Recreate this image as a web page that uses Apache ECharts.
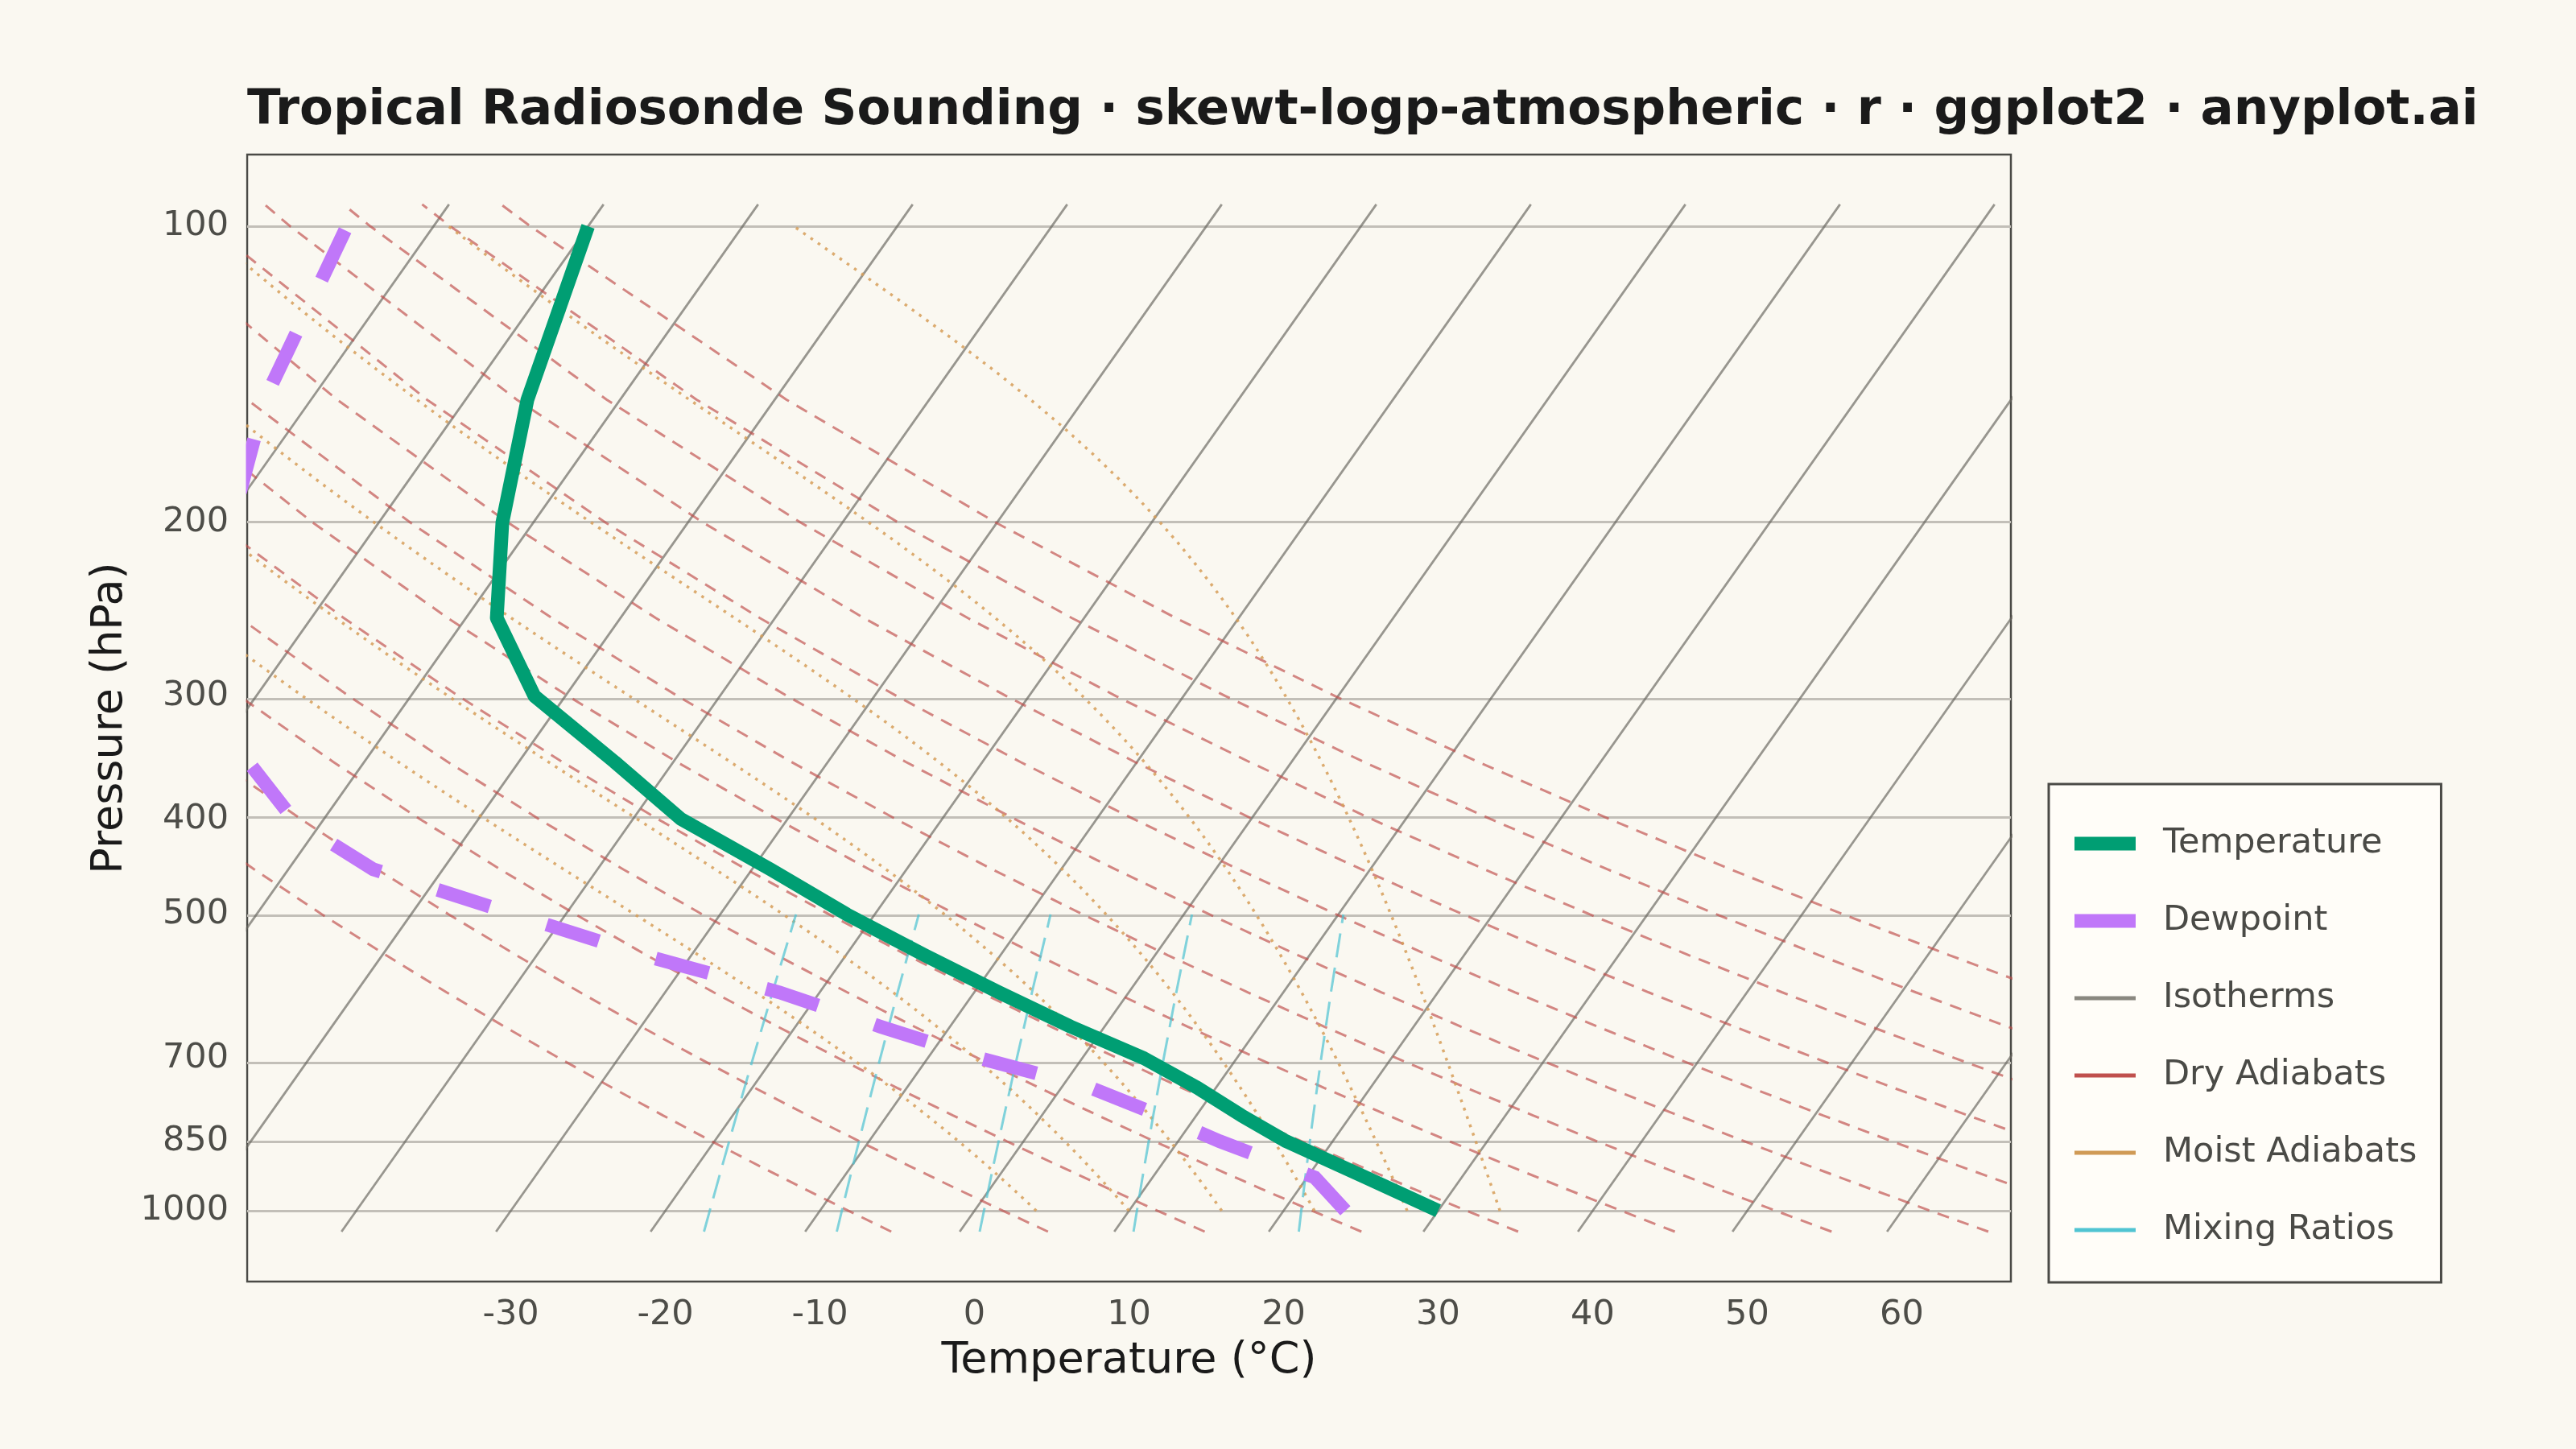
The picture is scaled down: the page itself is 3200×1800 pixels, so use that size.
<!DOCTYPE html>
<html>
<head>
<meta charset="utf-8">
<title>Tropical Radiosonde Sounding</title>
<script src="https://cdn.jsdelivr.net/npm/echarts@6/dist/echarts.min.js"></script>
<style>
  html, body { margin: 0; padding: 0; background: #FAF8F1; }
  #chart { width: 3200px; height: 1800px; }
</style>
</head>
<body>
<div id="chart"></div>
<script>
// sounding (hPa, degC)
var levels      = [1000, 925, 850, 800, 750, 700, 650, 600, 550, 500, 450, 400, 350, 300, 250, 200, 150, 100];
var temperature = [30, 23.8, 17, 12.9, 8.8, 4, -2.2, -8.4, -14.9, -21.8, -28.8, -36.9, -43.8, -52, -58, -62, -66, -70];
var dewpoint    = [24, 20.5, 12.7, 7.6, 1.9, -6.6, -14.5, -22.6, -33.1, -43.3, -54.5, -62, -67.5, -72, -77, -79.5, -83, -85.6];

// reference lines of the diagram
var isotherms    = [-80, -70, -60, -50, -40, -30, -20, -10, 0, 10, 20, 30, 40, 50, 60];     // degC
var dryThetas    = [265, 275, 285, 295, 305, 315, 325, 335, 345, 355, 365, 375, 385];      // K
var moistStarts  = [4, 10, 16, 22, 28, 34];                                                // degC at 1000 hPa
var mixingRatios = [1, 2, 4, 8, 16];                                                       // g/kg

// pressures the reference lines are sampled at
var dryLevels    = [1050, 1000, 950, 900, 850, 800, 750, 700, 650, 600, 550, 500, 450, 400, 350, 300, 250, 200, 150, 100, 95];
var mixLevels    = [1050, 1000, 900, 800, 700, 600, 500];
var MOIST_TOP = 1000, MOIST_BOTTOM = 100, MOIST_STEP = 10;   // hPa, RK4 steps

// axis ticks
var pressureTicks = [100, 200, 300, 400, 500, 700, 850, 1000];
var tempTicks     = [-30, -20, -10, 0, 10, 20, 30, 40, 50, 60];

var SKEW = 45;          // degC of skew per decade of pressure
var RD = 287.04, CP = 1005.7, LV = 2.501e6, EPS = 0.622, KAPPA = 0.2857;

function skewX(t, p) { return t + SKEW * Math.log10(1000 / p); }
function pt(t, p) { return [skewX(t, p), Math.log10(p)]; }
function satVapour(tc) { return 6.112 * Math.exp(17.67 * tc / (tc + 243.5)); }

// saturated (pseudo-adiabatic) lapse dT/dp, K per hPa
function moistLapse(t, p) {
  var tk = t + 273.15, es = satVapour(t), rs = EPS * es / (p - es);
  return (RD * tk + LV * rs) / (p * (CP + LV * LV * rs * EPS / (RD * tk * tk)));
}

var GAP = ['-', '-'];

function isothermData() {
  var out = [];
  isotherms.forEach(function(t){
    out.push(pt(t, 1050), pt(t, 95), GAP);
  });
  return out;
}

function dryData() {
  var out = [];
  dryThetas.forEach(function(th){
    dryLevels.forEach(function(p){
      out.push(pt(th * Math.pow(p / 1000, KAPPA) - 273.15, p));
    });
    out.push(GAP);
  });
  return out;
}

function moistData() {
  var out = [];
  moistStarts.forEach(function(t0){
    var t = t0, h = -MOIST_STEP;
    for (var p = MOIST_TOP; p >= MOIST_BOTTOM; p -= MOIST_STEP) {
      out.push(pt(t, p));
      var k1 = moistLapse(t, p);
      var k2 = moistLapse(t + h * k1 / 2, p + h / 2);
      var k3 = moistLapse(t + h * k2 / 2, p + h / 2);
      var k4 = moistLapse(t + h * k3, p + h);
      t += h * (k1 + 2 * k2 + 2 * k3 + k4) / 6;
    }
    out.push(GAP);
  });
  return out;
}

function mixingData() {
  var out = [];
  mixingRatios.forEach(function(w){
    mixLevels.forEach(function(p){
      var e = p * w / (622 + w);
      var l = Math.log(e / 6.112);
      out.push(pt(243.5 * l / (17.67 - l), p));
    });
    out.push(GAP);
  });
  return out;
}

function profile(values) {
  return levels.map(function(p, i){ return pt(values[i], p); });
}

var FONT = 'DejaVu Sans';
var BG = '#FAF8F1';
var COLORS = {
  temp: '#009E73',
  dew: '#C077F9',
  iso: '#8A8880',
  dry: '#C0504D',
  moist: '#D09A55',
  mix: '#50C4D2'
};

function bgLine(name, data, color, width, dash) {
  return {
    name: name,
    type: 'line',
    data: data,
    showSymbol: false,
    symbol: 'none',
    silent: true,
    z: 2,
    itemStyle: { color: color },
    lineStyle: { color: color, width: width, type: dash, cap: 'butt', opacity: 1 }
  };
}

var thick = 'path://M0,0H76V17H0Z';
var thin  = 'path://M0,0H76V5H0Z';

var chart = echarts.init(document.getElementById('chart'));

chart.setOption({
  backgroundColor: BG,
  animation: false,
  title: {
    text: 'Tropical Radiosonde Sounding \u00b7 skewt-logp-atmospheric \u00b7 r \u00b7 ggplot2 \u00b7 anyplot.ai',
    left: 307,
    top: 108,
    padding: 0,
    textStyle: { fontFamily: FONT, fontSize: 61, fontWeight: 'bold', color: '#1A1A1A' }
  },
  grid: {
    left: 307, top: 192, width: 2191, height: 1400,
    containLabel: false,
    outerBoundsMode: 'none',
    show: true,
    backgroundColor: 'transparent',
    borderColor: '#4A4A46',
    borderWidth: 2.5
  },
  // thick lines are clipped half a line width outside the panel; mask that sliver
  graphic: [{
    type: 'rect',
    silent: true,
    z: 50,
    shape: { x: 287, y: 185, width: 18.5, height: 1415 },
    style: { fill: BG }
  }],
  legend: {
    orient: 'vertical',
    left: 2545,
    top: 974,
    selectedMode: false,
    backgroundColor: '#FFFDF8',
    borderColor: '#4A4A46',
    borderWidth: 3,
    borderRadius: 0,
    padding: [49, 30, 40, 32],
    itemGap: 46,
    itemWidth: 76,
    itemHeight: 17,
    symbolKeepAspect: true,
    itemStyle: { borderWidth: 0, opacity: 1 },
    textStyle: { fontFamily: FONT, fontSize: 43, color: '#4A4A46', lineHeight: 50, padding: [0, 0, 0, 29] },
    data: [
      { name: 'Temperature', icon: thick, itemStyle: { color: COLORS.temp } },
      { name: 'Dewpoint', icon: thick, itemStyle: { color: COLORS.dew } },
      { name: 'Isotherms', icon: thin, itemStyle: { color: COLORS.iso } },
      { name: 'Dry Adiabats', icon: thin, itemStyle: { color: COLORS.dry } },
      { name: 'Moist Adiabats', icon: thin, itemStyle: { color: COLORS.moist } },
      { name: 'Mixing Ratios', icon: thin, itemStyle: { color: COLORS.mix } }
    ]
  },
  xAxis: {
    type: 'value',
    min: -47.06,
    max: 67.06,
    name: 'Temperature (\u00b0C)',
    nameLocation: 'middle',
    nameGap: 72,
    nameTextStyle: { fontFamily: FONT, fontSize: 54, color: '#1A1A1A' },
    axisLine: { show: false },
    axisTick: { show: false },
    splitLine: { show: false },
    axisLabel: {
      customValues: tempTicks,
      fontFamily: FONT, fontSize: 43, color: '#4D4D48', margin: 20,
      formatter: function(v){ return String(Math.round(v)); }
    }
  },
  yAxis: {
    type: 'value',
    inverse: true,
    min: Math.log10(84.56),
    max: Math.log10(1180),
    name: 'Pressure (hPa)',
    nameLocation: 'middle',
    nameRotate: 90,
    nameGap: 140,
    nameTextStyle: { fontFamily: FONT, fontSize: 54, color: '#1A1A1A' },
    axisLine: { show: false },
    axisTick: { show: false },
    splitLine: { show: false },
    axisLabel: {
      customValues: pressureTicks.map(function(p){ return Math.log10(p); }),
      fontFamily: FONT, fontSize: 43, color: '#4D4D48', margin: 23,
      formatter: function(v){ return String(Math.round(Math.pow(10, v))); }
    }
  },
  series: [
    {
      name: 'grid',
      type: 'line',
      data: [],
      silent: true,
      z: 1,
      markLine: {
        silent: true,
        z: 1,
        symbol: ['none', 'none'],
        label: { show: false },
        animation: false,
        lineStyle: { color: '#C2BFB8', width: 3, type: 'solid' },
        data: pressureTicks.map(function(p){ return { yAxis: Math.log10(p) }; })
      }
    },
    bgLine('Isotherms', isothermData(), 'rgba(105,103,96,0.68)', 2.8, 'solid'),
    bgLine('Dry Adiabats', dryData(), 'rgba(192,80,77,0.68)', 3, [15, 11]),
    bgLine('Moist Adiabats', moistData(), 'rgba(214,158,88,0.85)', 3.5, [3.5, 7.5]),
    bgLine('Mixing Ratios', mixingData(), 'rgba(80,196,210,0.72)', 3, [30, 13]),
    {
      name: 'Dewpoint',
      type: 'line',
      data: profile(dewpoint),
      showSymbol: false,
      symbol: 'none',
      z: 3,
      itemStyle: { color: COLORS.dew },
      lineStyle: { color: COLORS.dew, width: 17, type: [68, 74], cap: 'butt', join: 'miter' }
    },
    {
      name: 'Temperature',
      type: 'line',
      data: profile(temperature),
      showSymbol: false,
      symbol: 'none',
      z: 4,
      itemStyle: { color: COLORS.temp },
      lineStyle: { color: COLORS.temp, width: 17, type: 'solid', cap: 'butt', join: 'round' }
    }
  ]
});
</script>
</body>
</html>
